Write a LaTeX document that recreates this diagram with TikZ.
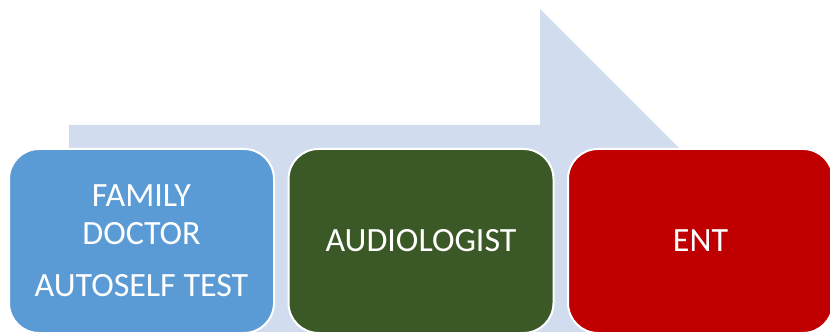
\documentclass[tikz,border=0pt]{standalone}
\usepackage{fontspec}
\setmainfont{Carlito}
\definecolor{arrowbg}{HTML}{D1DDEF}
\definecolor{boxblue}{HTML}{5B9BD5}
\definecolor{boxgreen}{HTML}{3B5926}
\definecolor{boxred}{HTML}{C00000}
\begin{document}
\begin{tikzpicture}[x=1pt,y=1pt,
  stagebox/.style={rounded corners=30pt, draw=white, line width=2pt,
    minimum width=265pt, minimum height=184pt, inner sep=0pt,
    text=white, align=center, font=\fontsize{34}{37.5}\selectfont}]
  \useasboundingbox (0,0) rectangle (830,332);
  \clip (0,0) rectangle (830,332);
  % background arrow (image y flipped: y = 332 - y_img)
  \fill[arrowbg] (69,207) -- (540,207) -- (540,323) -- (772,91) -- (540,-141)
     -- (540,-25) -- (69,-25) -- cycle;
  % stage boxes
  \node[stagebox, fill=boxblue] (fam) at (141.5,91)
    {FAMILY\\DOCTOR\\[15pt]AUTOSELF TEST};
  \node[stagebox, fill=boxgreen] (aud) at (421,91) {AUDIOLOGIST};
  \node[stagebox, fill=boxred] (ent) at (700.5,91) {ENT};
\end{tikzpicture}
\end{document}
